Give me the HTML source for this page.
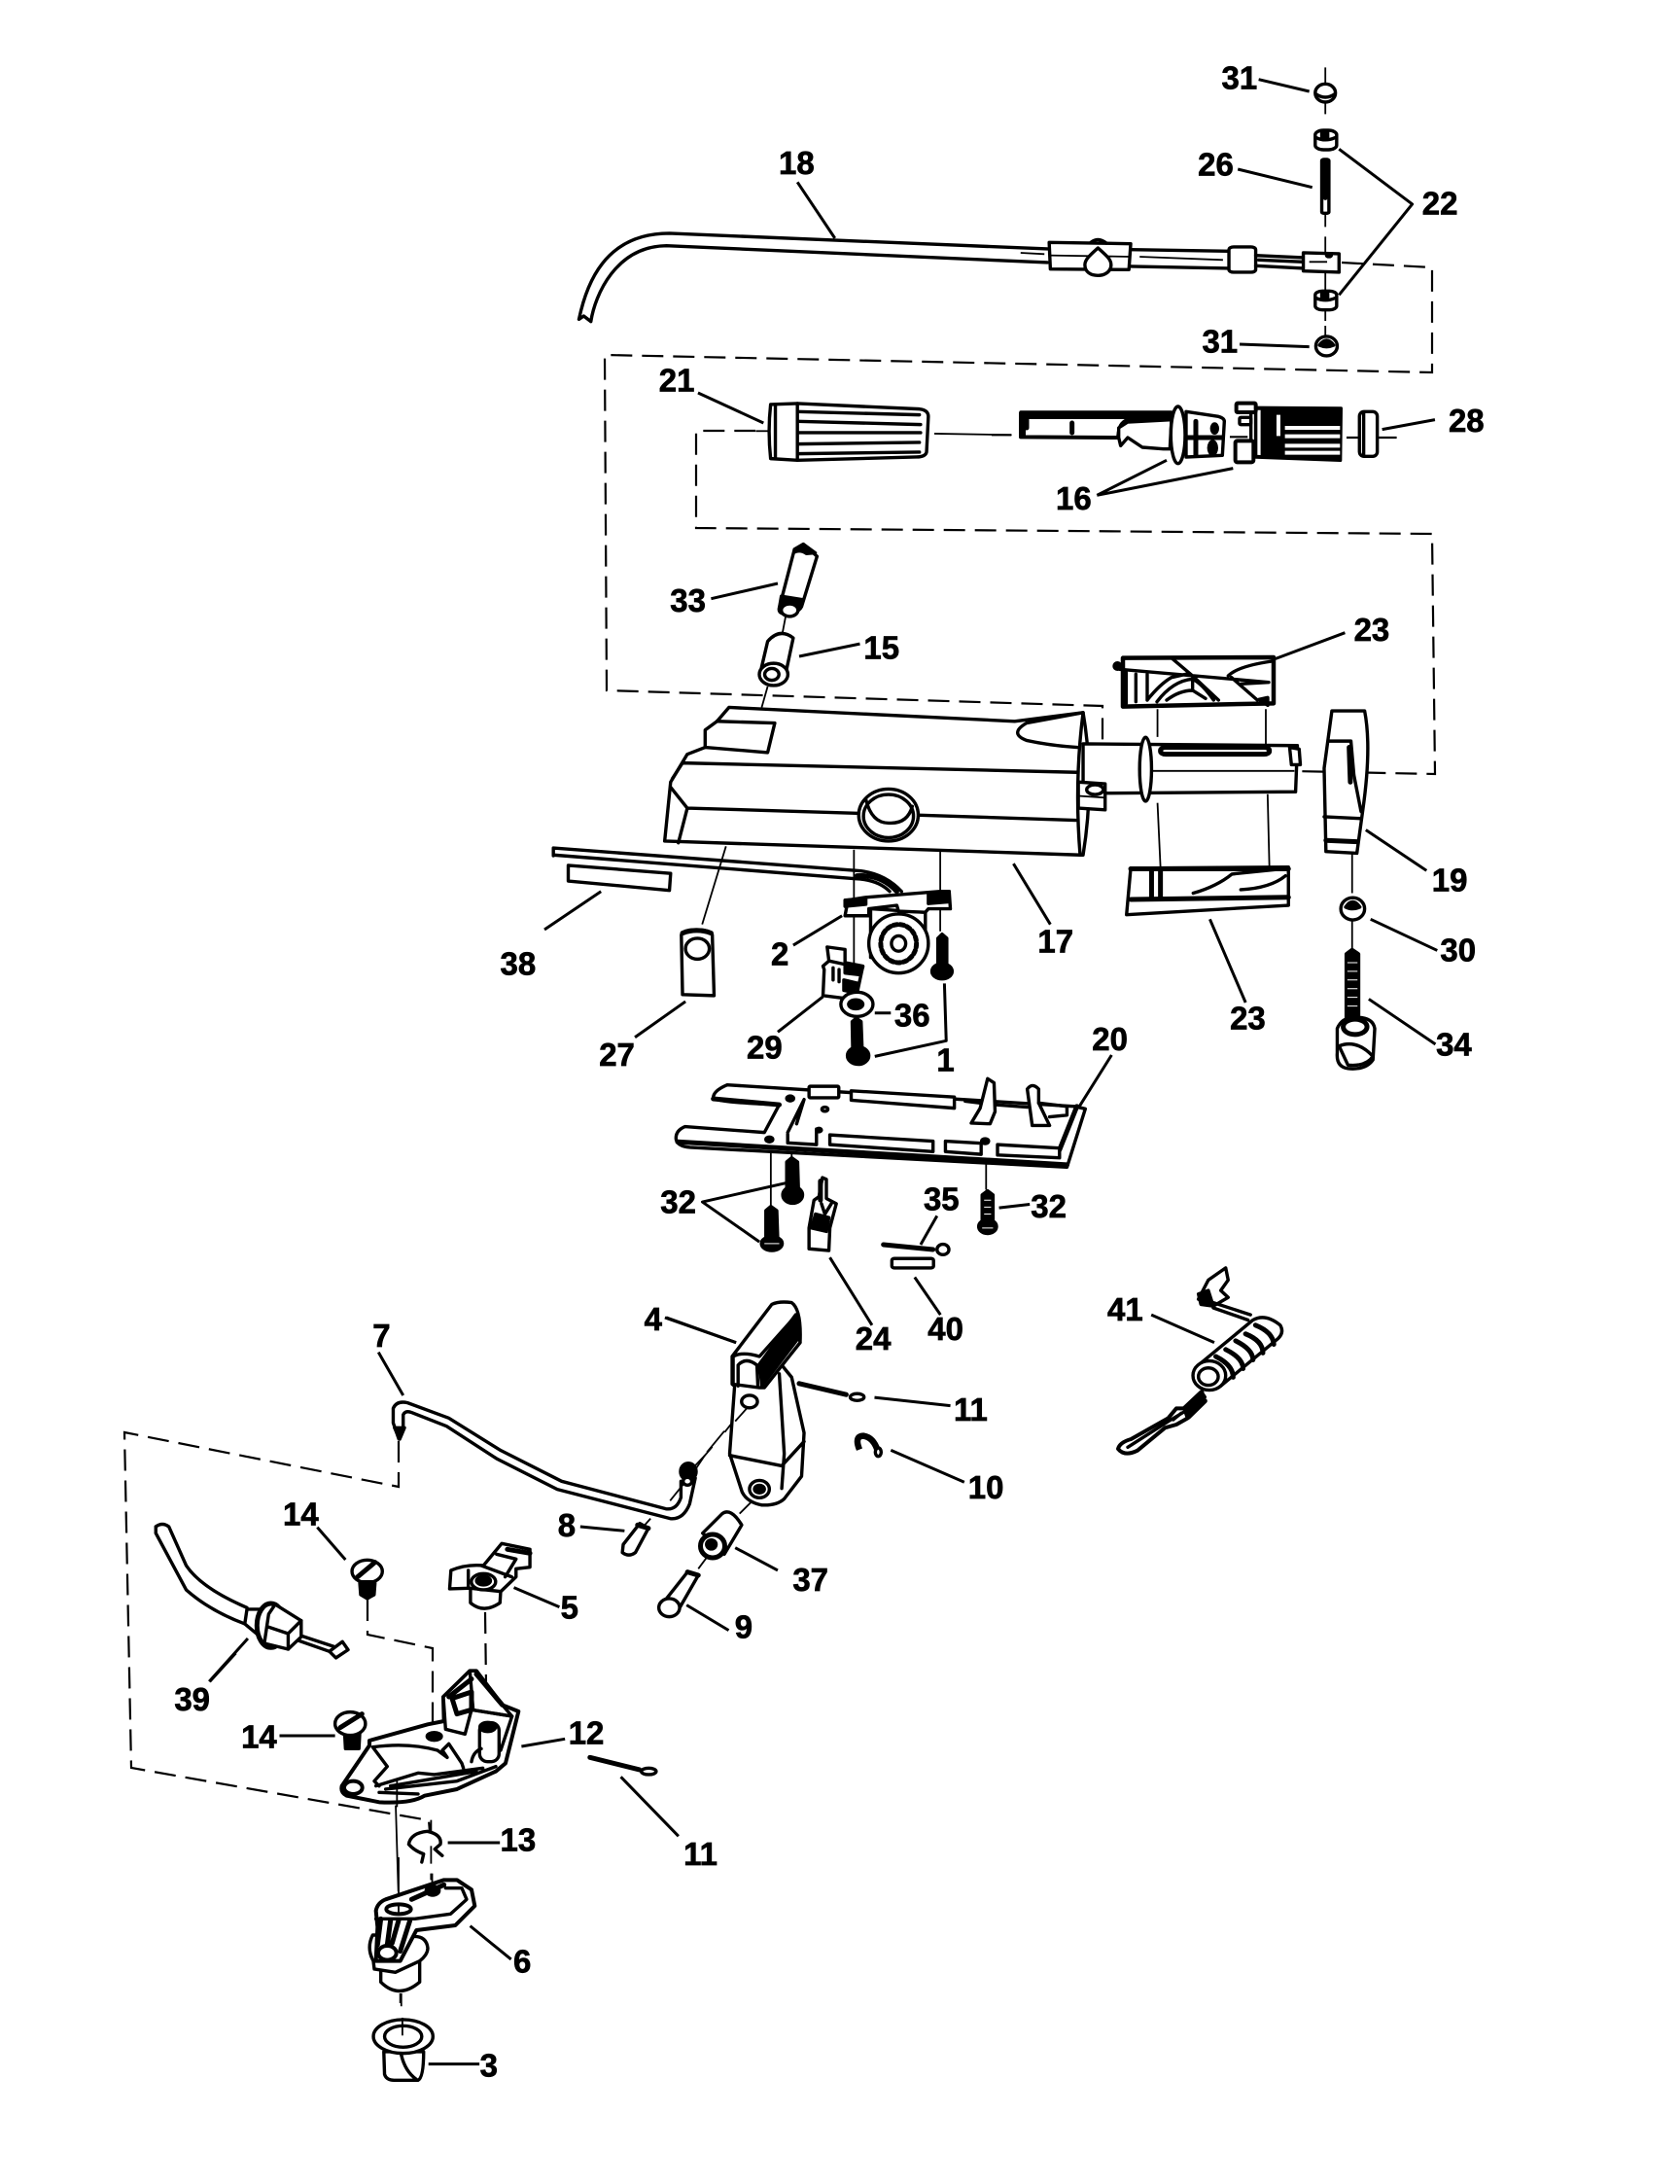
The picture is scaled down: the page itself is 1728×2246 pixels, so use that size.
<!DOCTYPE html>
<html><head><meta charset="utf-8"><style>
html,body{margin:0;padding:0;background:#fff}
svg{display:block}
svg *{vector-effect:non-scaling-stroke}
.a{fill:none;stroke:#000;stroke-width:3.4;stroke-linejoin:round;stroke-linecap:round}
.a .w{fill:#fff}
.a .k{fill:#000}
.a .l{stroke-width:3;stroke-linecap:butt}
.a .t{stroke-width:1.8;stroke-linecap:butt}
.a .h{stroke-width:5}
.a .x{stroke:#fff;stroke-width:2.5;stroke-linecap:butt}
.d{fill:none;stroke:#000;stroke-width:2.2;stroke-dasharray:22 10}
text{font:bold 23px "Liberation Sans",sans-serif;text-anchor:middle;fill:#000;stroke:#000;stroke-width:.7}
</style></head><body>
<svg width="1728" height="2246" viewBox="0 0 1728 2246" xmlns="http://www.w3.org/2000/svg">
<rect width="1728" height="2246" fill="#fff"/>
<path class="d" d="M1380,270 L1473,275 L1473,383 L622,365 L624,710 L1134,726 L1134,789 L1476,796 L1473,549 L716,543 L716,443 L777,443"/>
<path class="d" d="M410,1482 L410,1529 L128,1473 L135,1818 L441,1872 L442,1884"/>
<path class="d" d="M378,1645 L378,1681 L445,1695 L445,1780"/>
<path class="d" d="M499,1658 L500,1733"/>

<!-- Z1 -->
<g class="a" transform="translate(560,40) scale(.6122,.3333)">
<path class="l" d="M1200,125L1285,162M1168,942L1285,950M425,442L488,615M1165,402L1290,458M1335,340L1458,510L1335,790M258,1092L368,1185"/>
<path class="t" d="M1312,88V135M1312,195V232M1312,540V580M1312,610V660M1312,720V780M1312,835V870M1312,885V920M655,1218L785,1222M800,660L840,664M1000,672L1140,682M1150,682L1190,684"/>
<path d="M58,865C70,760 100,600 210,600L845,648M78,872C85,790 120,640 205,638L845,690M58,865L66,855L78,872"/>
<path class="w" d="M848,628L985,632L982,712L850,710Z"/>
<path class="t" d="M848,668L985,672"/>
<path class="w" d="M930,645C945,670 952,680 952,697C952,720 940,730 930,730C918,730 908,720 908,697C908,680 918,665 930,645Z"/>
<path d="M918,628Q930,610 944,630M985,650L1150,655M985,702L1150,708"/>
<rect class="w" x="1150" y="642" width="45" height="78" rx="8"/>
<path d="M1195,668L1275,675M1195,700L1275,708M1200,682L1275,688"/>
<path class="w" d="M1275,660L1335,663L1335,720L1275,716Z"/>
<path class="t" d="M1285,688H1315"/><circle class="k" cx="1318" cy="668" r="4"/>
<ellipse class="w" cx="1312" cy="167" rx="17" ry="28"/><path d="M1296,170Q1312,190 1328,170"/>
<rect class="w" x="1295" y="282" width="36" height="60" rx="14"/><path d="M1297,305Q1312,318 1328,305"/><path class="k" d="M1306,290h10v14h-10z"/>
<rect class="w" x="1306" y="372" width="12" height="166" rx="4"/><path class="h" d="M1312,380V490"/>
<rect class="w" x="1295" y="778" width="36" height="58" rx="12"/><path d="M1297,800Q1312,812 1328,800"/><path class="k" d="M1306,785h10v12h-10z"/>
<ellipse class="w" cx="1314" cy="948" rx="18" ry="30"/><path class="k" d="M1302,945Q1314,915 1326,945Q1314,955 1302,945Z"/>
<path class="w" d="M380,1128L425,1125L630,1142Q645,1145 645,1165L642,1275Q640,1290 625,1290L425,1300L380,1295Q375,1210 380,1128Z"/>
<path d="M425,1125L425,1300M388,1130L388,1295"/>
<path d="M425,1150L630,1160M425,1180L632,1190M425,1215L632,1215M425,1250L630,1245M425,1280L630,1275"/>
<path class="t" d="M355,1210H375"/>
</g>

<!-- 16 / 28 detail -->
<g class="a" transform="translate(1020,390) scale(.3333)">
<path class="t" style="stroke-width:2.2" d="M0,172H60M735,178H790M1095,180H1250"/>
<path class="l" d="M1205,155L1368,125M325,358L540,250M325,358L745,275"/>
<path class="w" d="M90,105H560V122H430Q395,130 392,165L390,180L90,178Z" style="stroke-width:4"/>
<path class="k" d="M90,102H555V118H100V178H90Z"/>
<path class="h" d="M108,125V150M248,135V165"/>
<path class="w" d="M392,150L420,132L555,125L550,215L530,215L465,210L420,180L398,205L392,180Z"/>
<path class="w" d="M600,100L700,115Q718,120 718,130L712,235L600,240Z"/>
<path class="h" d="M595,180H712M630,130V235"/>
<ellipse class="k" cx="688" cy="152" rx="9" ry="14"/><ellipse class="k" cx="682" cy="212" rx="12" ry="20"/>
<ellipse class="w" cx="575" cy="172" rx="22" ry="88"/>
<path class="k" d="M815,88L1078,90L1076,250L815,240Z"/>
<path class="x" style="stroke-width:4" d="M905,150H1075M905,176H1075M905,205H1075M905,227H1075M885,110V175"/>
<path class="w" d="M815,90L835,90L835,240L815,238Z"/>
<rect class="w" x="755" y="74" width="60" height="28" rx="4" style="stroke-width:4"/>
<rect x="765" y="118" width="35" height="22" rx="4"/>
<rect class="w" x="752" y="190" width="56" height="66" rx="6" style="stroke-width:4"/>
<path d="M800,105V185"/>
<rect class="w" x="1135" y="100" width="55" height="138" rx="14"/>
<path d="M1148,102V236"/>
</g>

<!-- Z2 -->
<g class="a" transform="translate(560,540) scale(.6122,.3571)">
<path class="t" d="M405,265L400,310M375,465L365,525M305,925L265,1150M520,935V1280M665,940V1170M1030,530V610M1212,530V630M1030,800L1035,985M1215,775L1218,985M1357,945V1060M1357,1140V1220M240,1330L255,1220"/>
<path class="l" d="M280,212L392,168M428,378L530,342M1228,385L1345,310M1380,878L1482,995M1388,1135L1500,1225M1385,1365L1497,1495M788,975L850,1150M1118,1135L1178,1375M500,1125L418,1210M672,1320L675,1485L555,1530M555,1405H582M468,1358L392,1460M237,1372L152,1475M95,1055L0,1165"/>
<!-- 33 -->
<path class="w" d="M420,70L435,55L458,90L432,235Q420,265 400,255Q392,250 395,235Z"/>
<path class="k" d="M420,70L435,55L455,80L440,82Q430,70 420,78ZM398,205L435,215L430,240Q415,225 395,235Z"/>
<ellipse class="w" cx="412" cy="245" rx="14" ry="18"/>
<!-- 15 -->
<path class="w" d="M375,335Q395,295 418,325L405,430Q385,470 362,430Z"/>
<ellipse class="w" cx="385" cy="430" rx="24" ry="32"/><ellipse cx="382" cy="430" rx="12" ry="17"/>
<!-- 17 body -->
<path class="w" d="M202,910L212,740L240,660L270,640L270,590L290,565L310,525L790,565L905,540Q925,740 905,950L900,950Z"/>
<path d="M290,565L387,570L375,655L270,640M232,685L895,712M240,815L530,830M625,835L893,850M212,755L240,815L225,915M232,685L215,730"/>
<path d="M905,540L810,570Q780,600 810,620Q850,635 895,640M905,540Q890,740 900,950"/>
<ellipse class="w" cx="578" cy="835" rx="50" ry="75"/><ellipse cx="578" cy="838" rx="42" ry="62"/><path d="M540,790Q550,860 580,858Q610,860 618,810"/>
<!-- tube -->
<path class="w" d="M905,630L1265,635L1262,768L945,772L905,760Z"/>
<path class="w" d="M897,740L942,745L942,820L897,815Z"/><circle cx="925" cy="762" r="14"/><path class="t" d="M897,780L942,785"/>
<rect class="w h" x="1035" y="640" width="183" height="20" rx="9"/>
<path class="w" d="M1252,640L1268,645L1270,690L1255,690Z"/>
<ellipse class="w" cx="1010" cy="703" rx="10" ry="92"/>
<path class="t" d="M1020,708H1260"/>
<!-- 23 bottom -->
<path class="w" d="M985,988L1250,985L1250,1095L978,1122Z"/>
<path class="h" d="M985,990H1250M1020,990V1075M1035,990V1075M985,1078L1250,1072"/>
<path d="M1090,1060Q1130,1040 1155,1005L1240,990M1170,1050Q1220,1045 1245,1010"/>
<!-- 19 -->
<path class="w" d="M1323,535L1378,535Q1390,640 1375,820L1365,945L1313,940L1310,700Z"/>
<path d="M1318,622L1355,622L1360,720L1372,825M1310,840L1372,845"/>
<path class="h" d="M1313,908L1365,912M1352,640L1354,740"/>
<!-- 30 -->
<ellipse class="w" cx="1358" cy="1105" rx="20" ry="32"/><path class="k" d="M1346,1100Q1358,1070 1370,1100Q1358,1110 1346,1100Z"/>
<!-- 34 -->
<path class="k" d="M1347,1235L1357,1222L1368,1235L1368,1420L1347,1420Z"/>
<path class="x" style="stroke-width:1" d="M1349,1260H1366M1349,1285H1366M1349,1310H1366M1349,1335H1366M1349,1360H1366M1349,1385H1366"/>
<path class="w" d="M1332,1450Q1340,1415 1365,1418Q1392,1418 1395,1450L1392,1540Q1380,1570 1350,1565Q1330,1560 1332,1520Z"/>
<ellipse class="h" cx="1362" cy="1445" rx="20" ry="22"/>
<path d="M1335,1500Q1365,1480 1392,1530Q1380,1560 1350,1555Z"/>
<!-- rod -->
<path d="M15,930L525,995Q570,1000 600,1055M15,950L520,1018Q560,1020 580,1055M15,930V952"/>
<path class="h" d="M525,1010Q565,1005 592,1055"/>
<path class="w" d="M40,980L212,1003L210,1052L40,1025Z"/>
<!-- 2 -->
<path class="w" d="M548,1105L548,1245L565,1250L640,1240L640,1115Z"/>
<path class="w" d="M510,1080L540,1072L665,1055L680,1055L682,1105L645,1105L640,1115L595,1112L592,1095L545,1105L545,1125L505,1125Z"/>
<path class="k" d="M505,1080L540,1075L540,1092L505,1098ZM645,1060L680,1055L680,1085L645,1090Z"/>
<ellipse class="w" cx="595" cy="1205" rx="50" ry="85"/><ellipse class="h" cx="595" cy="1205" rx="30" ry="55" style="stroke-dasharray:4 3"/><ellipse cx="595" cy="1205" rx="12" ry="22"/>
<!-- 27 -->
<path class="w" d="M230,1180Q232,1165 255,1165Q280,1165 282,1180L285,1355L232,1352Z"/>
<path class="h" d="M232,1175Q256,1160 280,1175"/>
<ellipse cx="257" cy="1220" rx="20" ry="30"/>
<!-- 29 -->
<path class="w" d="M475,1215L505,1222L505,1260L535,1270L525,1350L500,1362L468,1355L470,1280L468,1270L478,1255Z"/>
<path class="k" d="M505,1268L535,1272L530,1295L505,1290ZM503,1310L528,1320L518,1345L503,1340Z"/>
<path d="M478,1255L505,1265M485,1275V1310M495,1280V1315"/>
<!-- 36 -->
<ellipse class="w" cx="525" cy="1380" rx="27" ry="35"/><ellipse class="k" cx="523" cy="1380" rx="12" ry="13"/>
<!-- bolts -->
<path class="k" d="M661,1190L668,1178L676,1190L676,1285L661,1285Z"/><ellipse class="k" cx="668" cy="1285" rx="17" ry="22"/>
<path class="k" d="M517,1430L524,1420L532,1430L534,1520L518,1520Z"/><ellipse class="k" cx="527" cy="1528" rx="18" ry="25"/>
</g>

<!-- 23 top detail -->
<g class="a" transform="translate(1120,660) scale(.3333)">
<path class="w" style="stroke-width:4.5" d="M105,50L570,48L570,190L105,200Z"/>
<circle class="k" cx="88" cy="75" r="10"/>
<path d="M95,85L555,125M255,50L320,105L400,180M180,180Q220,130 255,110L300,100M210,185Q260,120 320,115Q350,130 385,180M240,180Q280,150 320,150L360,175M320,105V150M430,105Q460,75 565,60M440,110L520,180M470,130L555,125M115,95V190M145,100V185M180,100V180"/>
<path class="k" d="M525,178L552,172L552,196Z"/>
</g>

<!-- Z3 -->
<g class="a" transform="translate(600,1020) scale(.5102,.3571)">
<path class="l" d="M1000,330L1065,182M410,550L240,605L355,720M838,622L900,612M497,765L582,960M668,822L720,930M713,645L680,728M167,938L308,1010M587,1168L740,1192M620,1320L768,1412M1145,930L1272,1010"/>
<path class="t" d="M378,460V615M420,465V480M812,490V570M320,1205L285,1268M260,1310L245,1335M225,1365L245,1335"/>
<!-- 20 -->
<path class="w" d="M290,268Q262,285 262,305Q265,318 395,325L365,405L205,388Q185,400 187,425Q190,445 215,448L975,505L1012,337L990,330L290,268Z"/>
<path class="h" d="M190,432L975,498M262,308L395,325M960,455L995,330"/>
<rect class="w" x="455" y="272" width="60" height="33" rx="3"/>
<path class="w" d="M540,285L748,303L748,335L540,312Z"/>
<path class="w" d="M497,412L705,430L705,460L497,440Z"/>
<path class="w" d="M730,430L802,436L802,468L730,460Z"/>
<path class="w" d="M835,440L960,450L960,478L835,470Z"/>
<path class="w" d="M815,250L828,262L830,345L820,380L782,378L800,335Z"/>
<path class="w" d="M895,280Q905,260 918,280L918,320L940,385L905,385Z"/>
<path d="M770,315L800,320M830,325L895,332M918,320L975,330L975,355L940,360"/>
<path d="M412,435L470,440L470,395M412,410L412,435M412,405L445,310L430,380"/>
<circle class="k" cx="417" cy="307" r="7"/><circle cx="487" cy="338" r="6"/><circle class="k" cx="375" cy="425" r="7"/><circle class="k" cx="810" cy="430" r="7"/><circle class="k" cx="475" cy="398" r="5"/>
<!-- bolts -->
<path class="k" d="M410,490L420,478L432,490L434,585L410,585Z"/><ellipse class="k" cx="422" cy="585" rx="20" ry="24"/>
<path class="k" d="M368,630L378,618L390,630L392,715L368,715Z"/><ellipse class="k" cx="380" cy="725" rx="21" ry="20"/><path class="x" style="stroke-width:1" d="M365,725H395"/>
<path class="k" d="M804,585L815,573L826,585L826,665L804,665Z"/><ellipse class="k" cx="815" cy="676" rx="18" ry="20"/><path class="x" style="stroke-width:1" d="M808,600H822M808,620H822M808,640H822M804,680H826"/>
<!-- 24 -->
<path class="w" d="M482,535L490,540L490,595L510,610L497,680L495,745L455,740L455,680L465,600L475,590Z"/>
<path class="k" d="M460,680L468,640L495,650L490,690Z"/><path class="h" d="M478,545V600"/>
<path d="M480,610L487,640L500,610"/>
<!-- 35 / 40 -->
<path class="h" d="M605,728L705,742"/><ellipse class="w" cx="725" cy="742" rx="12" ry="15"/>
<rect class="w" x="622" y="768" width="84" height="27" rx="5"/>
<!-- 4 -->
<path class="w" d="M300,1050L380,900Q395,890 420,895Q440,915 437,1010L400,1075L420,1110L445,1270L440,1395L405,1460Q390,1480 360,1478Q330,1470 320,1440L295,1330L305,1135L300,1130Z"/>
<path class="w" d="M302,1050Q320,1035 355,1050L430,930L437,1010L365,1140L355,1140L302,1130Z"/>
<path class="k" d="M355,1072L428,930L432,1000L360,1135Z"/>
<path d="M312,1135L312,1075Q328,1050 350,1075L352,1138"/>
<ellipse cx="335" cy="1180" rx="16" ry="18"/>
<ellipse cx="355" cy="1432" rx="20" ry="25"/><ellipse class="k" cx="355" cy="1432" rx="10" ry="11"/>
<path d="M295,1335L400,1365L445,1295M395,1100L405,1330L400,1430"/>
<!-- 11 -->
<path class="h" d="M435,1128L530,1160"/><ellipse class="w" cx="552" cy="1167" rx="14" ry="10"/>
<!-- 41 -->
<path class="w" d="M1240,885L1260,830L1295,795L1300,830L1285,860L1300,880L1270,905Z"/>
<path class="k" d="M1240,870L1260,860L1270,905L1245,900Z"/>
<path d="M1270,895L1345,930M1270,910L1340,945"/>
<path class="w" d="M1240,1075L1350,945Q1375,925 1405,960Q1415,985 1395,1005L1285,1135Q1260,1150 1238,1125Z"/>
<ellipse class="w" cx="1262" cy="1105" rx="33" ry="42"/><ellipse cx="1260" cy="1108" rx="20" ry="25"/>
<path class="h" d="M1275,1050Q1310,1075 1310,1110M1295,1030Q1330,1055 1330,1085M1315,1005Q1350,1030 1350,1060M1335,985Q1370,1005 1370,1040M1355,960Q1390,980 1392,1015"/>
</g>

<!-- 10 clip -->
<g class="a" transform="translate(860,1460) scale(.3333)">
<path style="stroke-width:6.5;stroke-linecap:butt" d="M72,92Q55,50 85,50Q115,55 128,95"/>
<ellipse class="w" cx="130" cy="100" rx="9" ry="13"/>
</g>

<!-- 41 lower loop -->
<g class="a" transform="translate(1130,1420) scale(.3333)">
<path class="h" d="M265,85L318,35M277,112L328,62"/>
<path class="k" d="M268,85L318,35L328,50L276,105Z"/>
<path class="w" style="stroke-width:4" d="M60,210Q65,190 100,180L215,115L240,85L265,85L275,115L240,135L205,145L120,215Q80,235 60,210Z"/>
<path d="M90,205L215,125L265,95M230,120L255,100"/>
</g>

<!-- Z4 -->
<g class="a" transform="translate(100,1340) scale(.4464,.3333)">
<path class="l" d="M648,152L705,285M1113,690L1215,703M507,692L572,792M420,1335H548M960,878L1065,938M1358,932L1455,1010M347,1035L258,1168M1470,755L1568,825M1308,45L1472,122"/>
<path class="t" d="M1445,395L1405,460M1500,320L1470,365M1400,470L1380,510M1350,560L1320,610M1275,665L1255,695M1385,820L1410,775M1480,650L1510,610"/>
<!-- rod 7 -->
<path d="M695,420L682,370L682,325Q690,300 715,308L810,355L930,455L1070,550L1310,635Q1335,640 1345,600L1345,550M705,385L705,345Q710,330 725,338L805,380L920,480L1060,575L1320,665Q1350,670 1365,620L1378,540"/>
<path class="k" d="M685,385L708,385L697,420Z"/>
<ellipse class="k" cx="1362" cy="520" rx="18" ry="26"/><ellipse class="w" cx="1360" cy="550" rx="10" ry="12"/>
<!-- 8 -->
<path class="w" d="M1212,745L1250,680L1270,695L1240,770Q1225,785 1210,770Z"/>
<path class="h" d="M1245,685L1270,695"/>
<!-- 14a -->
<path class="k" d="M605,865L640,865L638,900L622,912L607,900Z"/>
<ellipse class="w" cx="622" cy="828" rx="35" ry="35"/><path class="h" d="M600,845L640,800"/>
<path class="w" d="M605,860H640"/>
<!-- 14b -->
<path class="k" d="M570,1325L605,1325L603,1375L572,1375Z"/>
<ellipse class="w" cx="583" cy="1298" rx="35" ry="36"/><path class="h" d="M560,1310L610,1268"/>
<!-- 5 -->
<path class="w" d="M860,880L860,925Q890,960 928,925L930,880Z"/>
<path class="w" d="M815,825Q850,805 890,810L932,742L997,760L997,815L965,820L965,845L930,890L860,880L855,880L812,882Z"/>
<path d="M855,825L855,880M885,810L955,845M920,775L965,790L940,845"/>
<path class="h" d="M945,760L997,772"/>
<ellipse class="w" cx="890" cy="860" rx="28" ry="25"/><ellipse class="k" cx="890" cy="857" rx="16" ry="13"/>
<!-- 37 -->
<path class="w" d="M1395,710L1440,650Q1460,630 1485,685L1445,775Z"/>
<ellipse class="w h" cx="1418" cy="750" rx="28" ry="36"/><ellipse class="k" cx="1415" cy="745" rx="11" ry="14"/>
<!-- 9 -->
<path class="w" d="M1310,915L1360,830L1385,840L1340,945Z"/>
<ellipse class="w" cx="1318" cy="940" rx="24" ry="28"/><path class="h" d="M1360,830L1385,840"/>
<!-- 39 -->
<path d="M135,690Q150,675 165,690L205,810Q240,880 345,940M135,710L205,885Q260,950 340,990M135,690V710"/>
<path class="w" d="M345,945L375,945L385,1040L340,990Z"/>
<path class="w" d="M455,1020L545,1060M450,1035L535,1075"/>
<path class="w" d="M535,1075L565,1045L578,1070L550,1095Z"/>
<ellipse class="w h" cx="400" cy="995" rx="32" ry="68"/>
<path class="w" d="M410,930L470,980L470,1030L440,1068L385,1050L395,960Z"/>
<path d="M395,1000L440,1020L470,980M440,1020V1068"/>
</g>

<!-- Z5 remaining -->
<g class="a" transform="translate(120,1700) scale(.3827,.3333)">
<path class="t" d="M845,595V650M845,515V550M848,680V720M765,1050V1090M750,470L757,735"/>
<path class="l" d="M890,585H1030M950,842L1060,945M838,1268H975M1088,288L1205,265M1355,382L1510,565M250,88L320,0"/>
<!-- 13 -->
<path d="M835,550Q790,555 785,590Q800,610 825,620L820,645M835,550Q875,560 870,590L855,605L875,625"/>
<!-- 3 -->
<path class="w" d="M718,1230L720,1300Q725,1318 745,1318L810,1318Q825,1310 825,1230Z"/>
<ellipse class="w" cx="770" cy="1183" rx="80" ry="52"/><ellipse cx="770" cy="1183" rx="50" ry="33"/>
<path class="t" d="M768,1125V1180"/>
<path d="M765,1240Q775,1290 805,1315"/>
<!-- 11 -->
<path class="h" d="M1272,322L1405,360"/><ellipse class="w" cx="1430" cy="365" rx="20" ry="10"/>
</g>

<!-- 12 detail -->
<g class="a" transform="translate(330,1690) scale(.3333)">
<path class="w" d="M65,440L150,315L150,300L330,250L380,240L378,165L460,85L480,85L560,190L610,210L570,370L540,395L420,450L320,470Q280,495 180,490L80,470Q60,460 65,440Z" style="stroke-width:4"/>
<path d="M160,320Q270,305 360,330L390,352L375,330L395,310L435,370L440,385M160,320L205,380L165,425L180,440"/>
<path d="M170,440L300,400L350,405L500,385M200,450L420,425L540,380M180,460L300,465M215,440L480,395"/>
<path class="w" d="M378,165L385,265L445,280L465,205L590,225L560,190L480,85L460,85Z"/>
<path d="M460,85L470,205M465,205L590,225M590,225L555,330"/>
<path class="h" d="M395,165L465,110M405,170L465,150V205L420,218Z"/>
<path class="h" d="M480,95L560,190"/>
<rect class="w" x="490" y="245" width="60" height="120" rx="24"/>
<ellipse class="k" cx="515" cy="258" rx="24" ry="14"/>
<path d="M465,365Q470,335 495,325"/>
<ellipse class="w" cx="100" cy="445" rx="28" ry="20" style="stroke-width:4"/>
<ellipse class="k" cx="350" cy="287" rx="22" ry="12"/>
<path class="t" d="M235,420V505M515,250V270"/>
</g>

<!-- 6 detail -->
<g class="a" transform="translate(360,1910) scale(.3333)">
<path class="t" d="M155,420V450M150,0V115M250,50V70"/>
<path class="w" d="M95,340L95,385Q150,440 215,385L215,320Z"/>
<path class="w" d="M70,240Q50,280 72,320L75,345L140,355L215,320Q240,300 240,280Q235,240 190,245L120,240Z"/>
<path class="w" style="stroke-width:4" d="M80,165Q85,140 110,130L290,70L330,70L375,100L385,150L325,210L205,225L155,320L80,320L85,215Z"/>
<path d="M295,95L345,95L360,130L310,175L200,190M80,190L200,190"/>
<path class="h" d="M190,130L290,85M95,190L85,270M125,195L115,270M150,195L130,265M185,195L155,290"/>
<ellipse class="w" cx="150" cy="160" rx="38" ry="15" style="stroke-width:4"/>
<ellipse class="k" cx="255" cy="103" rx="20" ry="14"/>
<ellipse class="w" cx="115" cy="295" rx="28" ry="22" style="stroke-width:4"/>
<path class="t" d="M150,145V175"/>
</g>

<g transform="scale(1.4324)">
<text x="890" y="64">31</text><text x="572" y="125">18</text><text x="873" y="126">26</text><text x="1034" y="154">22</text><text x="876" y="253">31</text><text x="486" y="281">21</text><text x="1053" y="310">28</text><text x="771" y="366">16</text><text x="494" y="439">33</text><text x="633" y="473">15</text><text x="985" y="460">23</text><text x="1041" y="640">19</text><text x="758" y="684">17</text><text x="1047" y="690">30</text><text x="372" y="700">38</text><text x="560" y="693">2</text><text x="655" y="737">36</text><text x="549" y="760">29</text><text x="443" y="765">27</text><text x="896" y="739">23</text><text x="1044" y="758">34</text><text x="679" y="769">1</text><text x="797" y="754">20</text><text x="487" y="871">32</text><text x="753" y="874">32</text><text x="676" y="869">35</text><text x="627" y="969">24</text><text x="679" y="962">40</text><text x="808" y="948">41</text><text x="469" y="955">4</text><text x="274" y="967">7</text><text x="697" y="1020">11</text><text x="708" y="1076">10</text><text x="407" y="1103">8</text><text x="216" y="1095">14</text><text x="582" y="1142">37</text><text x="409" y="1162">5</text><text x="534" y="1176">9</text><text x="138" y="1228">39</text><text x="186" y="1255">14</text><text x="421" y="1252">12</text><text x="503" y="1339">11</text><text x="372" y="1329">13</text><text x="375" y="1416">6</text><text x="351" y="1491">3</text>
</g>
</svg>
</body></html>
